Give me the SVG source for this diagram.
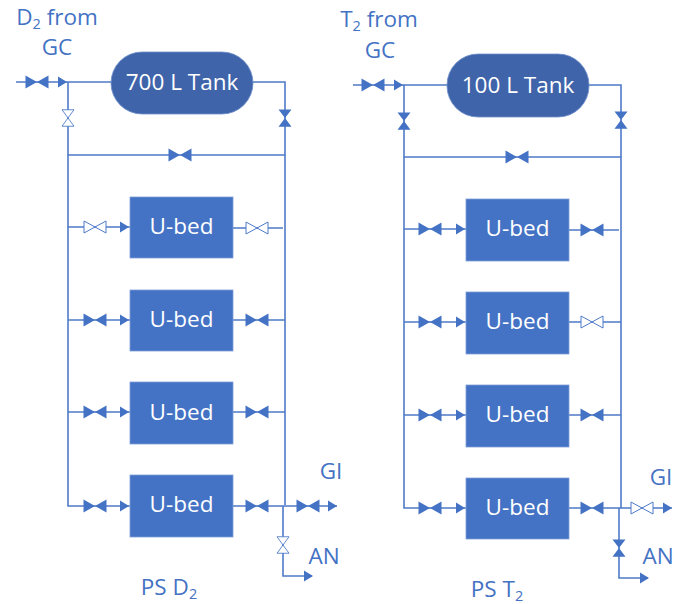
<svg xmlns="http://www.w3.org/2000/svg" width="683" height="604" viewBox="0 0 683 604">
<style>
.l{fill:none;stroke:#4f7ac8;stroke-width:1.6}
.t{font-family:"Open Sans","Noto Sans",sans-serif;font-size:22.500px;fill:#4472c4;text-anchor:middle}
.w{font-family:"Open Sans","Noto Sans",sans-serif;font-size:22.500px;fill:#fff;text-anchor:middle}
.s{font-size:14.500px}
.bed{fill:#4472c4;stroke:#7f9fd8;stroke-width:.8}
.tank{fill:#3f64aa;stroke:#6f8fcb;stroke-width:.8}
.open{fill:#fff;stroke:#4f7ac8;stroke-width:1}
.ar{fill:#4472c4}
</style>
<defs>
<g id="vf"><path class="ar" d="M-11.500-6.500L0 0L-11.500 6.500ZM11.500-6.500L0 0L11.500 6.500Z"/></g>
<g id="vo"><path class="open" d="M-11-6L0 0L-11 6ZM11-6L0 0L11 6Z"/></g>
<path id="ah" class="ar" d="M-9-5.500L0 0L-9 5.500Z"/>
</defs>
<g id="connectors">
<path class="l" d="M16 82H111M253 82H285V505M68 82V506H130M68 155H285M68 227H130M233 228H283M68 320H130M233 320H285M68 412H130M233 412H285M233 506H337M283 506V576H312"/>
<path class="l" d="M353 85H447M589 85H621V508M404 85V508H466M404 157H621M404 229H466M569 230H619M404 322H466M569 322H621M404 415H466M569 415H621M569 508H672M619 508V578H648"/>
<use href="#vf" x="37" y="82"/><use href="#ah" x="67" y="82"/>
<use href="#vo" transform="translate(68 118) rotate(90) scale(.75 1)"/>
<use href="#vf" transform="translate(285 118) rotate(90) scale(.75 1)"/>
<use href="#vf" x="180" y="155"/>
<use href="#vo" x="95" y="227"/><use href="#ah" x="129" y="227"/><use href="#vo" x="257" y="228"/>
<use href="#vf" x="95" y="320"/><use href="#ah" x="129" y="320"/><use href="#vf" x="257" y="320"/>
<use href="#vf" x="95" y="412"/><use href="#ah" x="129" y="412"/><use href="#vf" x="257" y="412"/>
<use href="#vf" x="95" y="506"/><use href="#ah" x="129" y="506"/><use href="#vf" x="257" y="506"/>
<use href="#vf" x="308" y="506"/><use href="#ah" x="337" y="506"/>
<use href="#vo" transform="translate(283 545) rotate(90) scale(.75 1)"/><use href="#ah" x="313" y="576"/>
<use href="#vf" x="373" y="85"/><use href="#ah" x="403" y="85"/>
<use href="#vf" transform="translate(404 121) rotate(90) scale(.75 1)"/>
<use href="#vf" transform="translate(621 120) rotate(90) scale(.75 1)"/>
<use href="#vf" x="517" y="157"/>
<use href="#vf" x="430" y="229"/><use href="#ah" x="465" y="229"/><use href="#vf" x="592" y="230"/>
<use href="#vf" x="430" y="322"/><use href="#ah" x="465" y="322"/><use href="#vo" x="592" y="322"/>
<use href="#vf" x="430" y="415"/><use href="#ah" x="465" y="415"/><use href="#vf" x="592" y="415"/>
<use href="#vf" x="430" y="508"/><use href="#ah" x="465" y="508"/><use href="#vf" x="592" y="508"/>
<use href="#vo" x="642" y="508"/><use href="#ah" x="672" y="508"/>
<use href="#vf" transform="translate(619 548) rotate(90) scale(.75 1)"/><use href="#ah" x="649" y="578"/>
</g>
<g id="tank-700"><rect class="tank" x="111" y="52" width="142" height="62" rx="31"/><text class="w" x="182" y="90">700 L Tank</text></g>
<g id="tank-100"><rect class="tank" x="447" y="54" width="142" height="63" rx="31"/><text class="w" x="518" y="93">100 L Tank</text></g>
<g id="bed-l1"><rect class="bed" x="130" y="197" width="103" height="61"/><text class="w" x="181.500" y="234">U-bed</text></g>
<g id="bed-l2"><rect class="bed" x="130" y="290" width="103" height="61"/><text class="w" x="181.500" y="327">U-bed</text></g>
<g id="bed-l3"><rect class="bed" x="130" y="382" width="103" height="62"/><text class="w" x="181.500" y="420">U-bed</text></g>
<g id="bed-l4"><rect class="bed" x="130" y="475" width="103" height="62"/><text class="w" x="181.500" y="512">U-bed</text></g>
<g id="bed-r1"><rect class="bed" x="466" y="199" width="103" height="62"/><text class="w" x="517.500" y="236">U-bed</text></g>
<g id="bed-r2"><rect class="bed" x="466" y="292" width="103" height="62"/><text class="w" x="517.500" y="329">U-bed</text></g>
<g id="bed-r3"><rect class="bed" x="466" y="385" width="103" height="62"/><text class="w" x="517.500" y="422">U-bed</text></g>
<g id="bed-r4"><rect class="bed" x="466" y="478" width="103" height="61"/><text class="w" x="517.500" y="515">U-bed</text></g>
<g id="labels">
<text class="t" x="57" y="25">D<tspan class="s" dy="4">2</tspan><tspan dy="-4"> from</tspan></text>
<text class="t" x="57" y="55">GC</text>
<text class="t" x="379" y="27">T<tspan class="s" dy="4">2</tspan><tspan dy="-4"> from</tspan></text>
<text class="t" x="380" y="58">GC</text>
<text class="t" x="331" y="479">GI</text>
<text class="t" x="324" y="564">AN</text>
<text class="t" x="661" y="485">GI</text>
<text class="t" x="658" y="564">AN</text>
<text class="t" x="169" y="595">PS D<tspan class="s" dy="4">2</tspan></text>
<text class="t" x="497" y="597">PS T<tspan class="s" dy="4">2</tspan></text>
</g>
</svg>
